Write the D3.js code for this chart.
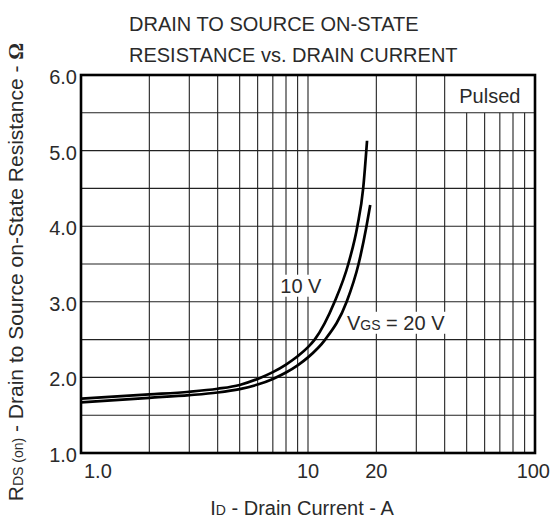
<!DOCTYPE html>
<html>
<head>
<meta charset="utf-8">
<script src="https://cdn.jsdelivr.net/npm/d3@7"></script>
<style>
  body { margin: 0; background: #fff; }
  text { font-family: "Liberation Sans", Arial, sans-serif; fill: #2a2a2a; }
</style>
</head>
<body>
<div id="chart"></div>
<script>
// curves (A, ohm)
var current10 = [1, 2, 3, 4, 5, 6, 7, 8, 9, 10, 10.7, 13.1, 15.05, 16.5, 17.5, 18.2];
var rds10 = [1.72, 1.775, 1.81, 1.85, 1.90, 1.98, 2.07, 2.17, 2.28, 2.40, 2.5, 3.0, 3.5, 4.0, 4.5, 5.13];
var current20 = [1, 2, 3, 4, 5, 6, 7, 8, 9, 10, 11.9, 14.8, 16.7, 18.1, 18.8];
var rds20 = [1.67, 1.73, 1.765, 1.80, 1.845, 1.905, 1.98, 2.065, 2.16, 2.265, 2.5, 3.0, 3.5, 4.0, 4.28];

var xGrid = [2, 3, 4, 5, 6, 7, 8, 9, 10, 20, 30, 40, 50, 60, 70, 80, 90];
var yGrid = [1.5, 2, 2.5, 3, 3.5, 4, 4.5, 5, 5.5];
var yTicks = [1, 2, 3, 4, 5, 6];
var xTicks = [1, 10, 20, 100];
var xTickLabels = ["1.0", "10", "20", "100"];

var w = 552;
var h = 523;
var pLeft = 81, pRight = 535, pTop = 75, pBottom = 453;

var x = d3.scaleLog().domain([1, 100]).range([pLeft, pRight]);
var y = d3.scaleLinear().domain([1, 6]).range([pBottom, pTop]);

var svg = d3.select('#chart')
  .append('svg')
  .attr('width', w)
  .attr('height', h)
  .style('background', 'white');

// grid
svg.append('g')
  .selectAll('line')
  .data(xGrid)
  .enter().append('line')
  .attr('x1', d => x(d)).attr('x2', d => x(d))
  .attr('y1', d => d > 40 ? y(5.5) : y(6))
  .attr('y2', y(1))
  .style('stroke', '#222')
  .style('stroke-width', 1.1);

svg.append('g')
  .selectAll('line')
  .data(yGrid)
  .enter().append('line')
  .attr('x1', x(1)).attr('x2', x(100))
  .attr('y1', d => y(d)).attr('y2', d => y(d))
  .style('stroke', '#222')
  .style('stroke-width', 1.1);

// "Pulsed" box
svg.append('text')
  .text('Pulsed')
  .attr('x', (x(40) + x(100)) / 2)
  .attr('y', y(5.5) - 10)
  .attr('text-anchor', 'middle')
  .attr('font-size', '20px');

// curve labels with white patches over the grid
function label(sel, xv, yv, parts) {
  var t = sel.append('text')
    .attr('x', x(xv))
    .attr('y', y(yv))
    .attr('font-size', '20px');
  parts.forEach(function(p) {
    t.append('tspan').text(p[0]).attr('font-size', p[1]);
  });
  var b = t.node().getBBox();
  sel.insert('rect', 'text')
    .attr('x', b.x - 2).attr('y', b.y)
    .attr('width', b.width + 4).attr('height', b.height)
    .style('fill', 'white');
}
label(svg.append('g'), 7.55, 3.12, [['10 V', '20px']]);
label(svg.append('g'), 14.85, 2.63, [['V', '20px'], ['GS', '14px'], [' = 20 V', '20px']]);

// curves
var line = d3.line()
  .x(d => x(d[0]))
  .y(d => y(d[1]))
  .curve(d3.curveMonotoneX);

svg.append('path')
  .datum(d3.zip(current10, rds10))
  .attr('d', line)
  .style('fill', 'none')
  .style('stroke', '#000')
  .style('stroke-width', 2.7);

svg.append('path')
  .datum(d3.zip(current20, rds20))
  .attr('d', line)
  .style('fill', 'none')
  .style('stroke', '#000')
  .style('stroke-width', 2.7);

// frame
svg.append('rect')
  .attr('x', pLeft).attr('y', pTop)
  .attr('width', pRight - pLeft).attr('height', pBottom - pTop)
  .style('fill', 'none')
  .style('stroke', '#000')
  .style('stroke-width', 2.6);

// tick labels
svg.append('g')
  .selectAll('text')
  .data(yTicks)
  .enter().append('text')
  .text(d => d.toFixed(1))
  .attr('x', pLeft - 4)
  .attr('y', d => y(d) + 9)
  .attr('text-anchor', 'end')
  .attr('font-size', '20px');

svg.append('g')
  .selectAll('text')
  .data(xTicks)
  .enter().append('text')
  .text((d, i) => xTickLabels[i])
  .attr('x', (d, i) => i == 0 ? x(d) + 3 : (i == xTicks.length - 1 ? w - 2 : x(d)))
  .attr('y', pBottom + 25)
  .attr('text-anchor', (d, i) => i == 0 ? 'start' : (i == xTicks.length - 1 ? 'end' : 'middle'))
  .attr('font-size', '20px');

// titles
var title = svg.append('text')
  .attr('font-size', '20px');
title.append('tspan').attr('x', 129).attr('y', 31).text('DRAIN TO SOURCE ON-STATE');
title.append('tspan').attr('x', 129).attr('y', 62).text('RESISTANCE vs. DRAIN CURRENT');

var xt = svg.append('text')
  .attr('x', 302)
  .attr('y', 515)
  .attr('text-anchor', 'middle')
  .attr('font-size', '20px');
xt.append('tspan').text('I');
xt.append('tspan').text('D').attr('font-size', '14px');
xt.append('tspan').text(' - Drain Current - A');

var yt = svg.append('text')
  .attr('transform', 'translate(23,272) rotate(-90)')
  .attr('text-anchor', 'middle')
  .attr('font-size', '21px');
yt.append('tspan').text('R');
yt.append('tspan').text('DS (on)').attr('font-size', '14px');
yt.append('tspan').text(' - Drain to Source on-State Resistance - ');
yt.append('tspan').text('\u03A9').attr('font-weight', 'bold')
  .style('font-family', '"Liberation Serif", serif');
</script>
</body>
</html>
